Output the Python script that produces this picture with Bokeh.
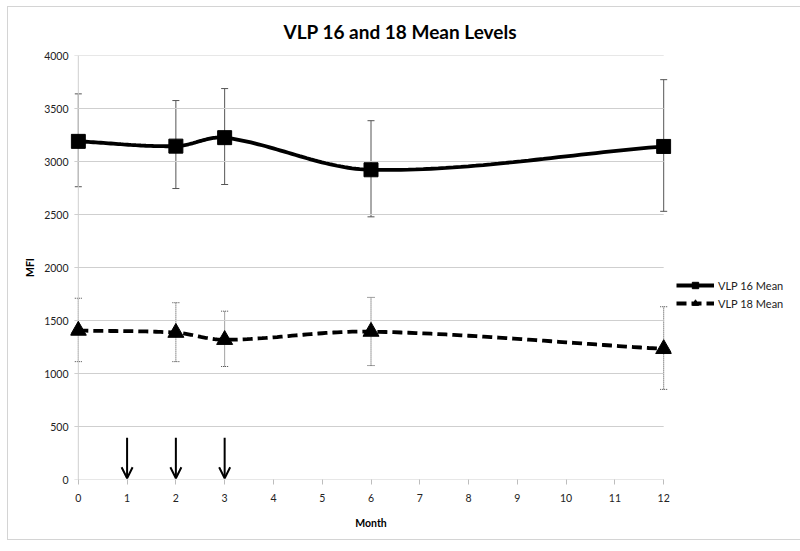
import numpy as np
from bokeh.plotting import figure
from bokeh.models import (ColumnDataSource, Whisker, TeeHead, Arrow, OpenHead,
                          Legend, LegendItem, Range1d, FixedTicker)
from bokeh.embed import file_html
from bokeh.resources import INLINE

# ---- data ----
months = [0, 2, 3, 6, 12]
vlp16_mean = [3190, 3145, 3225, 2922, 3142]
vlp16_low = [2762, 2745, 2783, 2478, 2530]
vlp16_high = [3638, 3575, 3688, 3385, 3772]
vlp18_mean = [1405, 1385, 1318, 1395, 1232]
vlp18_low = [1112, 1112, 1066, 1075, 850]
vlp18_high = [1710, 1668, 1588, 1718, 1630]
arrow_months = [1, 2, 3]
arrow_top = [395, 395, 395]
arrow_tip = [12, 12, 12]
y_ticks = [0, 500, 1000, 1500, 2000, 2500, 3000, 3500, 4000]
x_ticks = list(range(0, 13))

FONT = "Lato"
FW, FH = 601, 424
XR = (-0.16, 12.16)
YR = (0, 4000)


def smooth(xs, ys, n=40):
    # Excel-like smoothed line: Bezier with chord-length scaled tangents (pixel space)
    sx = FW / (XR[1] - XR[0])
    sy = FH / (YR[1] - YR[0])
    P = np.column_stack([np.asarray(xs, float) * sx, np.asarray(ys, float) * sy])
    P = np.vstack([P[0], P, P[-1]])
    out = []
    for i in range(1, len(P) - 2):
        p0, p1, p2, p3 = P[i - 1], P[i], P[i + 1], P[i + 2]
        d01 = np.hypot(*(p1 - p0)); d12 = np.hypot(*(p2 - p1)); d23 = np.hypot(*(p3 - p2))
        f1 = d12 / (d01 + d12) / 3 if d01 + d12 > 0 else 0
        f2 = d12 / (d12 + d23) / 3 if d12 + d23 > 0 else 0
        c1 = p1 + (p2 - p0) * f1
        c2 = p2 - (p3 - p1) * f2
        t = np.linspace(0, 1, n)[:, None]
        seg = (1 - t) ** 3 * p1 + 3 * (1 - t) ** 2 * t * c1 + 3 * (1 - t) * t ** 2 * c2 + t ** 3 * p2
        out.append(seg if i == 1 else seg[1:])
    arr = np.vstack(out)
    return arr[:, 0] / sx, arr[:, 1] / sy


p = figure(frame_width=FW, frame_height=FH, x_range=Range1d(*XR), y_range=Range1d(*YR),
           output_backend="svg", toolbar_location=None,
           min_border_left=62, min_border_right=121, min_border_top=48, min_border_bottom=60)
p.margin = (6, 0, 0, 7)
p.styles = {"border": "1px solid #d4d4d4"}
p.outline_line_color = None
p.background_fill_color = "white"
p.border_fill_color = "white"

p.title.text = "VLP 16 and 18 Mean Levels"
p.title.text_font = FONT
p.title.text_font_style = "bold"
p.title.text_font_size = "19px"
p.title.text_color = "#000000"
p.title.align = "left"
p.title.vertical_align = "top"
p.title.offset = 213
p.title.standoff = 21

# grid lines and axis lines drawn from tick values
p.xgrid.visible = False
p.ygrid.visible = False
gx0 = [-0.08] * len(y_ticks)
gx1 = [12] * len(y_ticks)
p.segment(x0=gx0, y0=y_ticks, x1=gx1, y1=y_ticks, line_color="#cfcfcf", line_width=1)
p.segment(x0=[0], y0=[0], x1=[0], y1=[4000], line_color="#cfcfcf", line_width=1)

# x axis
xa = p.xaxis[0]
xa.ticker = FixedTicker(ticks=x_ticks)
xa.axis_line_color = None
xa.major_tick_line_color = "#bdbdbd"
xa.major_tick_out = 5
xa.major_tick_in = 0
xa.minor_tick_line_color = None
xa.major_label_text_font = FONT
xa.major_label_text_font_size = "10.5px"
xa.major_label_text_color = "#222222"
xa.major_label_standoff = 9
xa.axis_label = "Month"
xa.axis_label_text_font = FONT
xa.axis_label_text_font_style = "bold"
xa.axis_label_text_font_size = "10.5px"
xa.axis_label_standoff = 12
xa.axis_label_text_color = "#000000"

ya = p.yaxis[0]
ya.ticker = FixedTicker(ticks=y_ticks)
ya.axis_line_color = None
ya.major_tick_line_color = None
ya.major_tick_out = 0
ya.major_tick_in = 0
ya.minor_tick_line_color = None
ya.major_label_text_font = FONT
ya.major_label_text_font_size = "10.5px"
ya.major_label_text_color = "#222222"
ya.major_label_standoff = 2
ya.axis_label = "MFI"
ya.axis_label_text_font = FONT
ya.axis_label_text_font_style = "bold"
ya.axis_label_text_font_size = "10.5px"
ya.axis_label_standoff = 5
ya.axis_label_text_color = "#000000"

# error bars
src16 = ColumnDataSource(dict(x=months, m=vlp16_mean, lo=vlp16_low, hi=vlp16_high))
src18 = ColumnDataSource(dict(x=months, m=vlp18_mean, lo=vlp18_low, hi=vlp18_high))
w16 = Whisker(base="x", upper="hi", lower="lo", source=src16, line_color="#555555", line_width=1,
              upper_head=TeeHead(size=7, line_color="#555555", line_width=1),
              lower_head=TeeHead(size=7, line_color="#555555", line_width=1))
w18 = Whisker(base="x", upper="hi", lower="lo", source=src18, line_color="#444444", line_width=1,
              line_dash="1 1",
              upper_head=TeeHead(size=7, line_color="#444444", line_width=1, line_dash="1 1"),
              lower_head=TeeHead(size=7, line_color="#444444", line_width=1, line_dash="1 1"))
p.add_layout(w16)
p.add_layout(w18)

# smoothed lines
sx16, sy16 = smooth(months, vlp16_mean)
sx18, sy18 = smooth(months, vlp18_mean)
l16 = p.line(sx16, sy16, line_color="black", line_width=3.8)
l18 = p.line(sx18, sy18, line_color="black", line_width=3.8, line_dash="10 5")
m16 = p.scatter(x="x", y="m", source=src16, marker="square", size=14, color="black")
m18 = p.scatter(x="x", y="m", source=src18, marker="triangle", size=16, color="black")

# arrows (vaccination months)
asrc = ColumnDataSource(dict(x=arrow_months, top=arrow_top, tip=arrow_tip))
p.add_layout(Arrow(end=OpenHead(size=11, line_width=2, line_color="black"),
                   x_start="x", y_start="top", x_end="x", y_end="tip", source=asrc,
                   line_width=2, line_color="black"))

legend = Legend(items=[LegendItem(label="VLP 16 Mean", renderers=[l16, m16]),
                       LegendItem(label="VLP 18 Mean", renderers=[l18, m18])],
                location=(5, 168), orientation="vertical")
legend.label_text_font = FONT
legend.label_text_font_size = "11px"
legend.label_text_color = "#222222"
legend.glyph_width = 38
legend.glyph_height = 16
legend.label_height = 12
legend.label_standoff = 4
legend.spacing = 2
legend.padding = 0
legend.margin = 0
legend.border_line_color = None
legend.background_fill_alpha = 0
p.add_layout(legend, "right")

open("out.html", "w").write(file_html(p, INLINE))
